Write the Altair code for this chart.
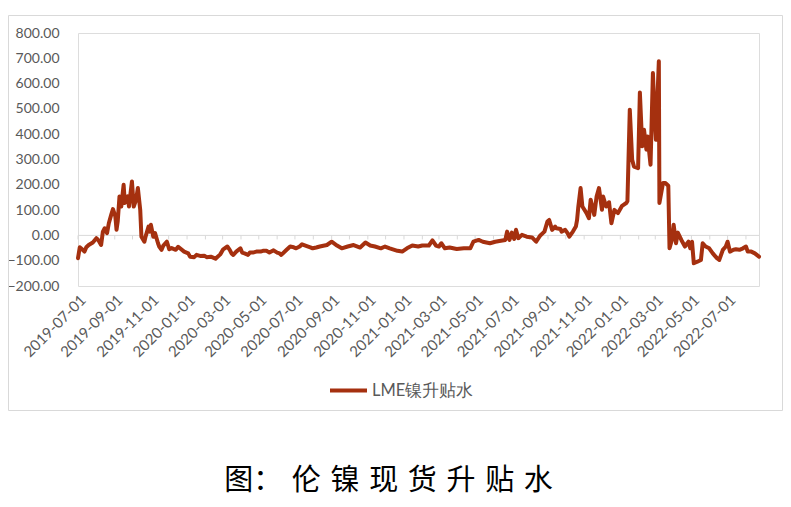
import altair as alt
import pandas as pd

# ---- data ----
series_name = "LME镍升贴水"

dates = [
    "2019-07-01", "2019-07-04", "2019-07-09", "2019-07-12", "2019-07-15", "2019-07-19", "2019-07-26",
    "2019-08-01", "2019-08-05", "2019-08-09", "2019-08-12", "2019-08-15", "2019-08-19", "2019-08-22",
    "2019-08-26", "2019-08-29", "2019-09-02", "2019-09-04", "2019-09-06", "2019-09-09", "2019-09-12",
    "2019-09-16", "2019-09-18", "2019-09-23", "2019-09-25", "2019-09-30", "2019-10-03", "2019-10-07",
    "2019-10-10", "2019-10-14", "2019-10-16", "2019-10-21", "2019-10-23", "2019-10-28", "2019-10-30",
    "2019-11-01", "2019-11-05", "2019-11-08", "2019-11-13", "2019-11-15", "2019-11-19", "2019-11-22",
    "2019-11-28", "2019-12-02", "2019-12-06", "2019-12-13", "2019-12-17", "2019-12-27",
    "2020-01-03", "2020-01-06", "2020-01-13", "2020-01-17", "2020-01-23", "2020-01-30", "2020-02-03",
    "2020-02-10", "2020-02-18", "2020-02-26", "2020-03-02", "2020-03-09", "2020-03-13", "2020-03-16",
    "2020-03-19", "2020-03-24", "2020-03-31", "2020-04-03", "2020-04-07", "2020-04-13", "2020-04-16",
    "2020-04-21", "2020-04-27", "2020-05-04", "2020-05-08", "2020-05-14", "2020-05-19", "2020-05-26",
    "2020-06-01", "2020-06-05", "2020-06-08", "2020-06-17", "2020-06-23", "2020-06-29", "2020-07-03",
    "2020-07-09", "2020-07-13", "2020-07-21", "2020-07-27", "2020-07-31", "2020-08-06", "2020-08-12",
    "2020-08-24", "2020-09-01", "2020-09-10", "2020-09-18", "2020-09-28", "2020-10-08", "2020-10-19",
    "2020-10-28", "2020-11-05", "2020-11-13", "2020-11-23", "2020-11-30", "2020-12-08", "2020-12-21",
    "2020-12-29",
    "2021-01-06", "2021-01-15", "2021-01-25", "2021-02-01", "2021-02-12", "2021-02-18", "2021-02-24",
    "2021-03-01", "2021-03-05", "2021-03-11", "2021-03-19", "2021-03-31", "2021-04-12", "2021-04-23",
    "2021-04-28", "2021-05-07", "2021-05-14", "2021-05-26", "2021-06-04", "2021-06-11", "2021-06-21",
    "2021-06-24", "2021-06-28", "2021-07-02", "2021-07-06", "2021-07-09", "2021-07-13", "2021-07-19",
    "2021-07-27", "2021-08-05", "2021-08-12", "2021-08-19", "2021-08-26", "2021-08-31", "2021-09-03",
    "2021-09-08", "2021-09-13", "2021-09-15", "2021-09-22", "2021-09-24", "2021-09-30", "2021-10-04",
    "2021-10-07", "2021-10-13", "2021-10-18", "2021-10-20", "2021-10-22", "2021-10-26", "2021-10-29",
    "2021-11-05", "2021-11-09", "2021-11-12", "2021-11-18", "2021-11-22", "2021-11-26", "2021-12-01",
    "2021-12-03", "2021-12-08", "2021-12-13", "2021-12-17", "2021-12-22", "2021-12-28",
    "2022-01-04", "2022-01-11", "2022-01-13", "2022-01-17", "2022-01-21", "2022-01-24", "2022-01-31",
    "2022-02-03", "2022-02-07", "2022-02-10", "2022-02-14", "2022-02-16", "2022-02-21", "2022-02-25",
    "2022-02-28", "2022-03-02", "2022-03-07", "2022-03-08", "2022-03-14", "2022-03-18", "2022-03-23",
    "2022-03-25", "2022-03-29", "2022-04-01", "2022-04-05", "2022-04-08", "2022-04-14", "2022-04-20",
    "2022-04-26", "2022-04-29", "2022-05-02", "2022-05-05", "2022-05-11", "2022-05-17", "2022-05-20",
    "2022-05-25", "2022-05-31", "2022-06-06", "2022-06-13", "2022-06-17", "2022-06-23", "2022-06-28",
    "2022-07-01", "2022-07-05", "2022-07-11", "2022-07-15", "2022-07-21", "2022-07-27", "2022-08-01",
    "2022-08-04", "2022-08-10", "2022-08-16", "2022-08-23",
]

values = [
    -90, -47, -57, -64, -47, -38, -28,
    -11, -21, -38, 15, 28, 9, 48,
    81, 104, 75, 22, 55, 154, 114,
    200, 128, 154, 114, 213, 114, 141,
    187, 101, -5, -25, -5, 35, 15,
    42, -5, 9, -31, -44, -57, -40,
    -25, -55, -50, -57, -45, -64,
    -71, -84, -86, -77, -81, -80, -86,
    -84, -92, -75, -55, -44, -57, -71,
    -77, -64, -51, -68, -71, -77, -68,
    -68, -64, -64, -61, -61, -68, -59,
    -68, -71, -77, -57, -44, -47, -51,
    -44, -35, -42, -47, -51, -48, -44,
    -38, -25, -40, -51, -44, -38, -48,
    -28, -40, -44, -51, -44, -51, -61,
    -64,
    -51, -40, -44, -40, -40, -20, -40,
    -44, -31, -51, -48, -54, -51, -51,
    -25, -18, -25, -31, -25, -22, -18,
    15, -18, 11, -14, 22, -11, 2,
    -5, -8, -25, 0, 15, 55, 61,
    22, 35, 28, 25, 15, 22, 9,
    -5, 15, 35, 60, 110, 187, 114,
    88, 68, 141, 81, 154, 187, 101,
    154, 114, 131, 48, 101, 88,
    117, 128, 135, 497, 299, 272, 266,
    565, 352, 418, 339, 391, 279, 642,
    470, 378, 688, 128, 207, 207, 196,
    -51, -18, 42, -31, 11, -18, -44,
    -25, -51, -25, -110, -104, -97, -31,
    -44, -51, -71, -90, -97, -57, -44,
    -25, -64, -57, -55, -57, -51, -44,
    -64, -64, -71, -84,
]

# x-axis labels every two months, monthly tick marks on the zero line
label_months = [(2019, 7), (2019, 9), (2019, 11), (2020, 1), (2020, 3), (2020, 5), (2020, 7),
                (2020, 9), (2020, 11), (2021, 1), (2021, 3), (2021, 5), (2021, 7), (2021, 9),
                (2021, 11), (2022, 1), (2022, 3), (2022, 5), (2022, 7)]
y_ticks = [-200, -100, 0, 100, 200, 300, 400, 500, 600, 700, 800]
tick_dates = pd.date_range("2019-07-01", "2022-08-01", freq="MS")

title_text = "图：\u2004伦\u2004镍\u2004现\u2004货\u2004升\u2004贴\u2004水"

df = pd.DataFrame({"date": pd.to_datetime(dates), "value": values, "series": series_name})
ticks_df = pd.DataFrame({"tick": tick_dates})

LINE_COLOR = "#a5300f"
GRAY = "#595959"
LIGHT = "#d9d9d9"

x_scale = alt.Scale(domain=[alt.DateTime(year=2019, month=7, date=1),
                            alt.DateTime(year=2022, month=8, date=23)])
y_scale = alt.Scale(domain=[-200, 800], nice=False, zero=False)

x_axis = alt.Axis(values=[alt.DateTime(year=y, month=m, date=1) for y, m in label_months],
                  format="%Y-%m-%d", labelAngle=-45, domain=False, ticks=False,
                  grid=False, title=None, labelFont="Lato", labelFontSize=15,
                  labelColor=GRAY, labelPadding=6, labelOverlap=False)
y_axis = alt.Axis(values=y_ticks, format=".2f", domain=False, ticks=False, grid=False,
                  title=None, labelFont="Lato", labelFontSize=14, labelColor=GRAY,
                  labelPadding=19, labelOverlap=False)

line = alt.Chart(df).mark_line(strokeWidth=4, strokeJoin="round", strokeCap="round").encode(
    x=alt.X("date:T", scale=x_scale, axis=x_axis),
    y=alt.Y("value:Q", scale=y_scale, axis=y_axis),
    color=alt.Color("series:N", scale=alt.Scale(range=[LINE_COLOR]),
                    legend=alt.Legend(orient="none", legendX=250, legendY=337, title=None,
                                      symbolType="stroke", symbolStrokeWidth=4, symbolSize=1369,
                                      labelFont="Lato", labelFontSize=16.5, labelColor=GRAY,
                                      padding=0, labelOffset=3)),
)

zero = alt.Chart(alt.Data(values=[{}])).mark_rule(color=LIGHT, strokeWidth=1).encode(
    y=alt.datum(0, scale=y_scale, axis=y_axis)
)

month_ticks = alt.Chart(ticks_df).mark_rule(color=LIGHT, strokeWidth=1).encode(
    x=alt.X("tick:T", scale=x_scale, axis=x_axis),
    y=alt.datum(0, scale=y_scale, axis=y_axis),
    y2=alt.datum(-16),
)

border = alt.Chart(alt.Data(values=[{}])).mark_rect(
    fillOpacity=0, stroke=LIGHT, strokeWidth=1
).encode(
    x=alt.value(-69.5), x2=alt.value(704.5), y=alt.value(-17.5), y2=alt.value(377.5)
)

chart = alt.layer(border, zero, month_ticks, line).properties(
    width=681,
    height=253,
    autosize=alt.AutoSizeParams(type="none"),
    padding={"left": 70, "top": 25, "right": 24, "bottom": 212},
    title=alt.TitleParams(title_text, orient="bottom", anchor="middle", font="Noto Sans CJK SC",
                          fontSize=29, fontWeight="normal", color="black", offset=56, dx=-30),
).configure_view(strokeWidth=0).configure(background="white")

chart.save("out.html", embed_options={"renderer": "svg", "actions": False})
